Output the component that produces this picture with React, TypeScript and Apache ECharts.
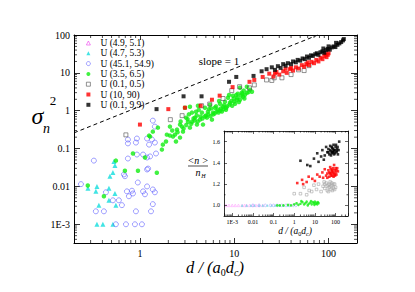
import React, { useEffect, useRef } from 'react';
import * as echarts from 'echarts';

const SERIF = '"Liberation Serif", "DejaVu Serif", serif';

const seriesNames = ['U (4.9, 5.1)', 'U (4.7, 5.3)', 'U (45.1, 54.9)', 'U (3.5, 6.5)', 'U (0.1, 0.5)', 'U (10, 90)', 'U (0.1, 9.9)'];

// main panel: sigma_n^2 vs d/(a0 dc)
const mainMagenta: number[][] = [];
const mainCyan = [
  [0.281, 0.0089], [0.35, 0.01], [0.341, 0.0074], [0.367, 0.0032], [0.35, 0.001], [0.405, 0.001], [0.517, 0.001],
  [0.469, 0.0089], [0.481, 0.0186], [0.517, 0.0232], [0.53, 0.0455], [0.543, 0.0357], [0.469, 0.0043], [0.543, 0.0065], [0.556, 0.0032],
];
const mainBlue = [
  [0.237, 0.0115], [0.325, 0.048], [0.436, 0.007], [0.341, 0.0022], [0.415, 0.0022], [0.517, 0.0043], [0.598, 0.0043],
  [0.556, 0.001], [0.711, 0.001], [0.885, 0.001], [0.644, 0.0032], [0.728, 0.0074], [0.823, 0.0077], [0.843, 0.0065],
  [0.746, 0.0546], [0.677, 0.0207], [0.693, 0.0186], [0.907, 0.0022], [0.746, 0.173], [0.907, 0.144], [0.929, 0.184],
  [0.929, 0.0695], [0.95, 0.0127], [0.764, 0.0055], [1.19, 0.184], [1.34, 0.173], [1.44, 0.144], [1.25, 0.127],
  [1.08, 0.0695], [1.19, 0.058], [1.28, 0.062], [1.48, 0.074], [1.19, 0.028], [1.22, 0.0296], [1.08, 0.0074],
  [1.19, 0.01], [1.37, 0.0083], [1.44, 0.007], [1.13, 0.0062], [1.37, 0.0034], [1.31, 0.0022], [1.05, 0.001],
  [1.37, 0.546], [1.44, 0.38], [0.746, 0.137],
];
const mainGreen = [
  [0.28, 0.0106], [0.415, 0.0055], [0.556, 0.048], [0.693, 0.026], [0.843, 0.074], [0.953, 0.026], [1.13, 0.058],
  [1.51, 0.023], [1.25, 0.22], [1.37, 0.28], [1.71, 0.094], [1.75, 0.127], [1.93, 0.233], [2.08, 0.22], [2.35, 0.233],
  [2.66, 0.195], [2.86, 0.28], [2.08, 0.38], [2.47, 0.316], [2.79, 0.38], [3.23, 0.51], [3.0, 1.2], [3.39, 1.27],
  [4.12, 1.35], [3.56, 0.89], [3.83, 0.655], [4.33, 0.58], [5.13, 0.655], [5.94, 0.89], [6.71, 1.06], [7.59, 1.27],
  [9.0, 1.63], [10.7, 1.95], [12.4, 2.34], [13.6, 2.98], [11.5, 4.03], [13.6, 4.28], [1.28, 0.207], [2.24, 0.207],
  [2.66, 0.43], [3.08, 0.655], [3.56, 0.51], [3.93, 0.94], [4.54, 0.89], [4.89, 1.2], [5.26, 0.94], [5.52, 1.44],
  [6.24, 1.2], [7.05, 1.53], [7.97, 1.73], [8.57, 2.2], [9.68, 2.48], [10.2, 1.53], [11.5, 1.95], [13.0, 2.64],
  [14.7, 3.57], [15.4, 3.16], [10.9, 2.8], [8.17, 1.06], [5.8, 0.58], [4.66, 0.43], [4.02, 0.43], [3.39, 0.357],
  [2.41, 0.153], [1.89, 0.153], [1.55, 0.357], [6.0, 0.8], [6.5, 0.95], [7.2, 1.15], [7.8, 1.4], [8.4, 1.3],
  [9.3, 1.8], [9.9, 2.1], [10.5, 2.6], [12.0, 3.0], [12.8, 2.1], [5.0, 0.75], [4.4, 0.7], [3.7, 0.62], [6.9, 1.8],
  [8.8, 2.6], [7.4, 0.95], [11.2, 1.7], [12.6, 3.4], [14.2, 3.1], [4.2, 1.05], [5.4, 1.1], [3.3, 0.8],
  [2.2, 0.3], [2.5, 0.27], [2.9, 0.34], [3.1, 0.42], [3.5, 0.45], [3.8, 0.55], [4.1, 0.52], [4.6, 0.62], [4.9, 0.7],
  [5.3, 0.8], [5.6, 0.72], [6.2, 0.85], [6.8, 0.9], [7.1, 1.0], [7.7, 1.1], [8.2, 1.2], [8.9, 1.45], [9.5, 1.35],
  [10.0, 1.75], [10.8, 2.2], [11.8, 2.5], [12.2, 2.8], [6.4, 1.3], [5.7, 1.15], [4.0, 0.75], [3.2, 0.6], [2.7, 0.52],
];
const mainGray = [
  [0.71, 0.23], [2.1, 0.58], [2.8, 0.74], [4.5, 1.35], [5.5, 1.5], [7.6, 2.1], [9.4, 3.4], [11.4, 4.3], [14.5, 4.0],
  [16.3, 4.8], [22, 6.5], [26.5, 7.4], [25, 6.3], [32, 7.4], [40, 9], [48, 12], [55, 11.5], [62, 15.5],
];
const mainRed = [
  [1, 0.43], [2, 1.1], [3, 1.2], [4.4, 1.35], [5.8, 1.95], [7, 2.5], [9.6, 4.2], [14.5, 5.8], [16.3, 6.5], [20, 7.8],
  [23.5, 9.5], [26, 8], [28, 10.5], [30, 9], [33, 11], [36, 10], [39, 12.5], [42, 11.5], [45, 14], [48, 13], [52, 16],
  [55, 14.5], [58, 17], [62, 16], [66, 19.5], [70, 18], [74, 22], [78, 20], [82, 25], [86, 23], [90, 28], [95, 26],
  [100, 33], [98, 30], [93, 31], [60, 19], [35, 12.8], [27, 9.8], [40, 13.5],
];
const mainBlack = [
  [1.5, 1.1], [2.9, 2.4], [4.5, 2.4], [8.8, 5.8], [10.5, 7.8], [16, 8.3], [19.5, 11], [22, 12.5], [25, 14], [27, 12],
  [29, 15], [31, 13.5], [33, 17], [35, 15.5], [37, 18], [40, 17], [42, 20], [45, 19], [47, 22], [50, 21], [53, 24],
  [56, 23], [59, 27], [62, 25], [65, 29], [68, 28], [72, 31], [75, 33], [78, 30], [82, 35], [86, 37], [90, 34],
  [94, 40], [98, 43], [103, 41], [108, 47], [113, 50], [118, 48], [124, 55], [130, 60], [136, 65], [142, 72],
  [145, 78], [120, 62], [100, 50], [88, 44],
];
const slopeLine = [[0.2, 0.26], [77, 100]];

// inset: <n>/n_H vs d/(a0 dc)
const insetMagenta = [[5e-4, 1], [7e-4, 1], [1e-3, 1], [1.4e-3, 1], [2e-3, 1], [3e-3, 1], [4e-3, 1], [5e-3, 1], [7e-3, 1], [0.01, 1], [0.014, 1], [0.02, 1], [0.03, 1]];
const insetCyan = [[0.003, 1], [0.005, 1], [0.008, 1], [0.012, 1], [0.02, 1], [0.03, 1], [0.05, 1], [0.08, 1], [0.12, 1], [0.2, 1], [0.3, 1], [0.5, 1]];
const insetBlue = [[0.01, 1], [0.02, 1], [0.04, 1], [0.07, 1], [0.1, 1], [0.15, 1], [0.25, 1], [0.4, 1], [0.6, 1], [0.9, 1], [1.2, 1]];
const insetGreen = [
  [0.15, 1], [0.2, 1], [0.3, 1], [0.5, 1.005], [0.7, 1], [1, 1.01], [1.3, 1.02], [1.6, 1.005], [2, 1.015], [2.5, 1.03],
  [3, 1.01], [3.5, 1.02], [4, 1.035], [5, 1.015], [6, 1.025], [7, 1.01], [8, 1.03], [9, 1.02], [10, 1.035], [11, 1.015],
  [12, 1.025], [14, 1.03], [15, 1.02], [2.2, 1.04], [4.5, 1.0], [6.5, 1.04], [9.5, 1.005], [13, 1.01],
];
const insetGray = [
  [1, 1.11], [2, 1.11], [3, 1.17], [5.3, 1.14], [9, 1.19], [4, 1.1], [7, 1.13], [12, 1.15], [15, 1.2], [20, 1.13],
  [25, 1.18], [30, 1.16], [35, 1.21], [40, 1.14], [45, 1.19], [50, 1.17], [55, 1.22], [60, 1.15], [70, 1.19], [80, 1.16],
  [90, 1.2], [100, 1.17], [28, 1.22], [65, 1.21], [45, 1.13], [50, 1.2], [60, 1.18], [70, 1.14], [80, 1.2], [40, 1.18],
  [30, 1.2], [90, 1.15],
];
const insetRed = [
  [1.4, 1.21], [2.4, 1.24], [2.7, 1.2], [4, 1.22], [5, 1.27], [7.5, 1.25], [10, 1.23], [13, 1.29], [17, 1.27], [23, 1.31],
  [25, 1.26], [30, 1.34], [35, 1.28], [40, 1.3], [45, 1.33], [50, 1.27], [55, 1.36], [60, 1.3], [65, 1.32], [70, 1.28],
  [75, 1.35], [80, 1.3], [90, 1.33], [100, 1.31], [110, 1.29], [120, 1.35], [130, 1.32], [40, 1.26], [85, 1.38], [60, 1.34],
  [50, 1.31], [60, 1.28], [70, 1.33], [80, 1.27], [90, 1.29], [100, 1.35], [110, 1.33], [55, 1.3], [75, 1.31], [95, 1.28],
];
const insetBlack = [
  [2, 1.42], [4.3, 1.38], [6, 1.37], [9, 1.44], [13, 1.49], [23, 1.52], [30, 1.47], [15, 1.41], [35, 1.55], [40, 1.5],
  [45, 1.53], [50, 1.48], [55, 1.56], [60, 1.51], [65, 1.49], [70, 1.54], [75, 1.5], [80, 1.57], [85, 1.52], [90, 1.49],
  [100, 1.55], [110, 1.5], [120, 1.53], [130, 1.48], [140, 1.52], [150, 1.6], [20, 1.46], [27, 1.43],
  [45, 1.5], [55, 1.52], [65, 1.55], [75, 1.53], [85, 1.48], [95, 1.52], [105, 1.57], [115, 1.51], [125, 1.55],
  [60, 1.47], [70, 1.5], [80, 1.51],
];

const MAIN_X: [number, number] = [0.2, 200];
const MAIN_Y: [number, number] = [3.2e-4, 100];
const INSET_X: [number, number] = [4e-4, 400];
const INSET_Y: [number, number] = [0.9, 1.7];

function logLabel(v: number): string {
  const l = Math.log10(v);
  const e = Math.round(l);
  if (Math.abs(l - e) > 1e-6) return '';
  if (e >= 0) return String(Math.pow(10, e));
  if (e >= -2) return Math.pow(10, e).toFixed(-e);
  return '1E' + e;
}

function logMinor(min: number, max: number): number[] {
  const out: number[] = [];
  for (let e = Math.floor(Math.log10(min)); e <= Math.ceil(Math.log10(max)); e++) {
    for (let m = 2; m <= 9; m++) {
      const v = m * Math.pow(10, e);
      if (v > min * 1.0001 && v < max * 0.9999) out.push(v);
    }
  }
  return out;
}

function linMinor(min: number, max: number, step: number): number[] {
  const out: number[] = [];
  for (let v = Math.ceil(min / step) * step; v < max - 1e-9; v += step) {
    const r = Math.round(v * 1000) / 1000;
    if (Math.abs(r / 0.2 - Math.round(r / 0.2)) > 1e-6 && r > min) out.push(r);
  }
  return out;
}

function tickSeries(xi: number, yi: number, xr: number[], yr: number[], xVals: number[], yVals: number[], len: number) {
  const data = [...xVals.map((v) => [v, yr[0], 0]), ...yVals.map((v) => [xr[0], v, 1])];
  return {
    type: 'custom',
    xAxisIndex: xi,
    yAxisIndex: yi,
    silent: true,
    z: 7,
    data,
    encode: { x: 0, y: 1 },
    renderItem: (_p: any, api: any) => {
      const kind = api.value(2);
      const style = { stroke: '#000', lineWidth: 0.7 };
      if (kind === 0) {
        const v = api.value(0);
        const b = api.coord([v, yr[0]]);
        const t = api.coord([v, yr[1]]);
        return {
          type: 'group',
          children: [
            { type: 'line', shape: { x1: b[0], y1: b[1], x2: b[0], y2: b[1] - len }, style },
            { type: 'line', shape: { x1: t[0], y1: t[1], x2: t[0], y2: t[1] + len }, style },
          ],
        };
      }
      const v = api.value(1);
      const l = api.coord([xr[0], v]);
      const r = api.coord([xr[1], v]);
      return {
        type: 'group',
        children: [
          { type: 'line', shape: { x1: l[0], y1: l[1], x2: l[0] + len, y2: l[1] }, style },
          { type: 'line', shape: { x1: r[0], y1: r[1], x2: r[0] - len, y2: r[1] }, style },
        ],
      };
    },
  };
}

function axisBase(extra: any) {
  return {
    axisLine: { show: true, lineStyle: { color: '#000', width: 1 } },
    splitLine: { show: false },
    ...extra,
  };
}

type Sty = { symbol: string; size: number; color: string; hollow: boolean };
const mainStyles: Sty[] = [
  { symbol: 'triangle', size: 5, color: '#ee44ee', hollow: true },
  { symbol: 'triangle', size: 5, color: '#11dddd', hollow: false },
  { symbol: 'circle', size: 5, color: '#6464ff', hollow: true },
  { symbol: 'circle', size: 4.5, color: '#11ee11', hollow: false },
  { symbol: 'rect', size: 4, color: '#555555', hollow: true },
  { symbol: 'rect', size: 4, color: '#ff0000', hollow: false },
  { symbol: 'rect', size: 4, color: '#000000', hollow: false },
];
const insetColors = ['#ffaaff', '#66dddd', '#aaaaff', '#11ee11', '#aaaaaa', '#ff0000', '#000000'];

function scatter(name: string, data: number[][], st: Sty, xi: number, yi: number, size: number, z: number, colorOverride?: string) {
  const c = colorOverride || st.color;
  return {
    type: 'scatter',
    name,
    xAxisIndex: xi,
    yAxisIndex: yi,
    data,
    symbol: st.symbol,
    symbolSize: size,
    z,
    itemStyle: st.hollow
      ? { color: 'rgba(255,255,255,0)', borderColor: c, borderWidth: 0.8 }
      : { color: c, borderWidth: 0 },
  };
}

export default function App() {
  const ref = useRef<HTMLDivElement>(null);
  useEffect(() => {
    if (!ref.current) return;
    const chart = echarts.init(ref.current, undefined, { renderer: 'svg' });
    const mainData = [mainMagenta, mainCyan, mainBlue, mainGreen, mainGray, mainRed, mainBlack];
    const insetData = [insetMagenta, insetCyan, insetBlue, insetGreen, insetGray, insetRed, insetBlack];

    const series: any[] = [];
    seriesNames.forEach((n, i) => series.push(scatter(n, mainData[i], mainStyles[i], 0, 0, mainStyles[i].size, 2)));
    seriesNames.forEach((n, i) => series.push(scatter(n, insetData[i], { ...mainStyles[i], hollow: i === 0 || i === 2 || i === 4 }, 2, 2, 2.6, 6, insetColors[i])));
    series.push({
      type: 'line',
      name: 'slope',
      xAxisIndex: 0,
      yAxisIndex: 0,
      data: slopeLine,
      symbol: 'none',
      lineStyle: { color: '#000', width: 1, type: [4, 3] },
      z: 2,
    });
    series.push(tickSeries(0, 0, MAIN_X, MAIN_Y, logMinor(MAIN_X[0], MAIN_X[1]), logMinor(MAIN_Y[0], MAIN_Y[1]), 3));
    series.push(tickSeries(2, 2, INSET_X, INSET_Y, logMinor(INSET_X[0], INSET_X[1]), linMinor(INSET_Y[0], INSET_Y[1], 0.1), 1.5));

    const mainLabel = { fontFamily: SERIF, fontSize: 10, color: '#000' };
    const insetLabel = { fontFamily: SERIF, fontSize: 6, color: '#000' };

    chart.setOption({
      animation: false,
      backgroundColor: '#fff',
      grid: [
        { left: 74, top: 35, width: 283, height: 208, outerBoundsMode: 'none', containLabel: false },
        { left: 224, top: 131, width: 124, height: 85, show: true, backgroundColor: '#fff', borderWidth: 0, z: 4, outerBoundsMode: 'none', containLabel: false },
      ],
      xAxis: [
        axisBase({ type: 'log', gridIndex: 0, min: MAIN_X[0], max: MAIN_X[1], position: 'bottom',
          axisTick: { inside: true, length: 5, lineStyle: { color: '#000', width: 0.8 } },
          axisLabel: { ...mainLabel, margin: 5, formatter: logLabel } }),
        axisBase({ type: 'log', gridIndex: 0, min: MAIN_X[0], max: MAIN_X[1], position: 'top',
          axisTick: { inside: true, length: 5, lineStyle: { color: '#000', width: 0.8 } }, axisLabel: { show: false } }),
        axisBase({ type: 'log', gridIndex: 1, min: INSET_X[0], max: INSET_X[1], position: 'bottom', z: 7,
          axisLine: { show: true, lineStyle: { color: '#000', width: 0.8 } },
          axisTick: { inside: true, length: 3, lineStyle: { color: '#000', width: 0.6 } },
          axisLabel: { ...insetLabel, margin: 3, formatter: logLabel } }),
        axisBase({ type: 'log', gridIndex: 1, min: INSET_X[0], max: INSET_X[1], position: 'top', z: 7,
          axisLine: { show: true, lineStyle: { color: '#000', width: 0.8 } },
          axisTick: { inside: true, length: 3, lineStyle: { color: '#000', width: 0.6 } }, axisLabel: { show: false } }),
      ],
      yAxis: [
        axisBase({ type: 'log', gridIndex: 0, min: MAIN_Y[0], max: MAIN_Y[1], position: 'left',
          axisTick: { inside: true, length: 6, lineStyle: { color: '#000', width: 0.8 } },
          axisLabel: { ...mainLabel, margin: 4, formatter: logLabel } }),
        axisBase({ type: 'log', gridIndex: 0, min: MAIN_Y[0], max: MAIN_Y[1], position: 'right',
          axisTick: { inside: true, length: 6, lineStyle: { color: '#000', width: 0.8 } }, axisLabel: { show: false } }),
        axisBase({ type: 'value', gridIndex: 1, min: INSET_Y[0], max: INSET_Y[1], position: 'left', z: 7,
          axisLine: { show: true, lineStyle: { color: '#000', width: 0.8 } },
          axisTick: { inside: true, length: 3, lineStyle: { color: '#000', width: 0.6 } },
          axisLabel: { ...insetLabel, margin: 4, showMinLabel: false, showMaxLabel: false, formatter: (v: number) => v.toFixed(1) } }),
        axisBase({ type: 'value', gridIndex: 1, min: INSET_Y[0], max: INSET_Y[1], position: 'right', z: 7,
          axisLine: { show: true, lineStyle: { color: '#000', width: 0.8 } },
          axisTick: { inside: true, length: 3, lineStyle: { color: '#000', width: 0.6 } }, axisLabel: { show: false } }),
      ],
      legend: {
        data: seriesNames,
        orient: 'vertical',
        left: 86,
        top: 38,
        padding: 0,
        itemWidth: 4,
        itemHeight: 4,
        itemGap: 0.3,
        selectedMode: false,
        itemStyle: { borderWidth: 0.8 },
        textStyle: { fontFamily: SERIF, fontSize: 9.5, color: '#000', lineHeight: 10, padding: [0, 0, 0, 5] },
      },
      graphic: [
        { type: 'text', x: 219, y: 61, style: { text: 'slope = 1', font: `11px ${SERIF}`, fill: '#000', align: 'center', verticalAlign: 'middle' } },
        { type: 'text', x: 37.5, y: 116, style: { text: 'σ', font: `italic 24px ${SERIF}`, fill: '#000', align: 'center', verticalAlign: 'middle' } },
        { type: 'text', x: 46.5, y: 128.5, style: { text: 'n', font: `italic 14px ${SERIF}`, fill: '#000', align: 'center', verticalAlign: 'middle' } },
        { type: 'text', x: 53, y: 100, style: { text: '2', font: `13px ${SERIF}`, fill: '#000', align: 'center', verticalAlign: 'middle' } },
        {
          type: 'text', x: 215, y: 267,
          style: {
            text: '{m|d / (a}{s|0}{m|d}{c|c}{m|)}',
            align: 'center', verticalAlign: 'middle', fill: '#000',
            rich: {
              m: { fontFamily: SERIF, fontStyle: 'italic', fontSize: 16.5, fill: '#000' },
              s: { fontFamily: SERIF, fontSize: 10, padding: [10, 0, 0, 0], fill: '#000' },
              c: { fontFamily: SERIF, fontStyle: 'italic', fontSize: 10, padding: [10, 0, 0, 0], fill: '#000' },
            },
          },
        },
        {
          type: 'text', x: 295, y: 231, z: 10,
          style: {
            text: '{m|d / (a}{s|0}{m|d}{c|c}{m|)}',
            align: 'center', verticalAlign: 'middle', fill: '#000',
            rich: {
              m: { fontFamily: SERIF, fontStyle: 'italic', fontSize: 9.5, fill: '#000' },
              s: { fontFamily: SERIF, fontSize: 6, padding: [6, 0, 0, 0], fill: '#000' },
              c: { fontFamily: SERIF, fontStyle: 'italic', fontSize: 6, padding: [6, 0, 0, 0], fill: '#000' },
            },
          },
        },
        { type: 'text', x: 198, y: 160, z: 10, style: { text: '<n >', font: `italic 10px ${SERIF}`, fill: '#000', align: 'center', verticalAlign: 'middle' } },
        { type: 'line', z: 10, shape: { x1: 188, y1: 166, x2: 208, y2: 166 }, style: { stroke: '#000', lineWidth: 0.7 } },
        { type: 'text', x: 198, y: 172, z: 10, style: { text: 'n', font: `italic 10px ${SERIF}`, fill: '#000', align: 'center', verticalAlign: 'middle' } },
        { type: 'text', x: 203.5, y: 176, z: 10, style: { text: 'H', font: `italic 6px ${SERIF}`, fill: '#000', align: 'center', verticalAlign: 'middle' } },
      ],
      series,
    });
    return () => chart.dispose();
  }, []);
  return <div ref={ref} style={{ position: 'fixed', left: 0, top: 0, width: 415, height: 292, background: '#fff' }} />;
}
